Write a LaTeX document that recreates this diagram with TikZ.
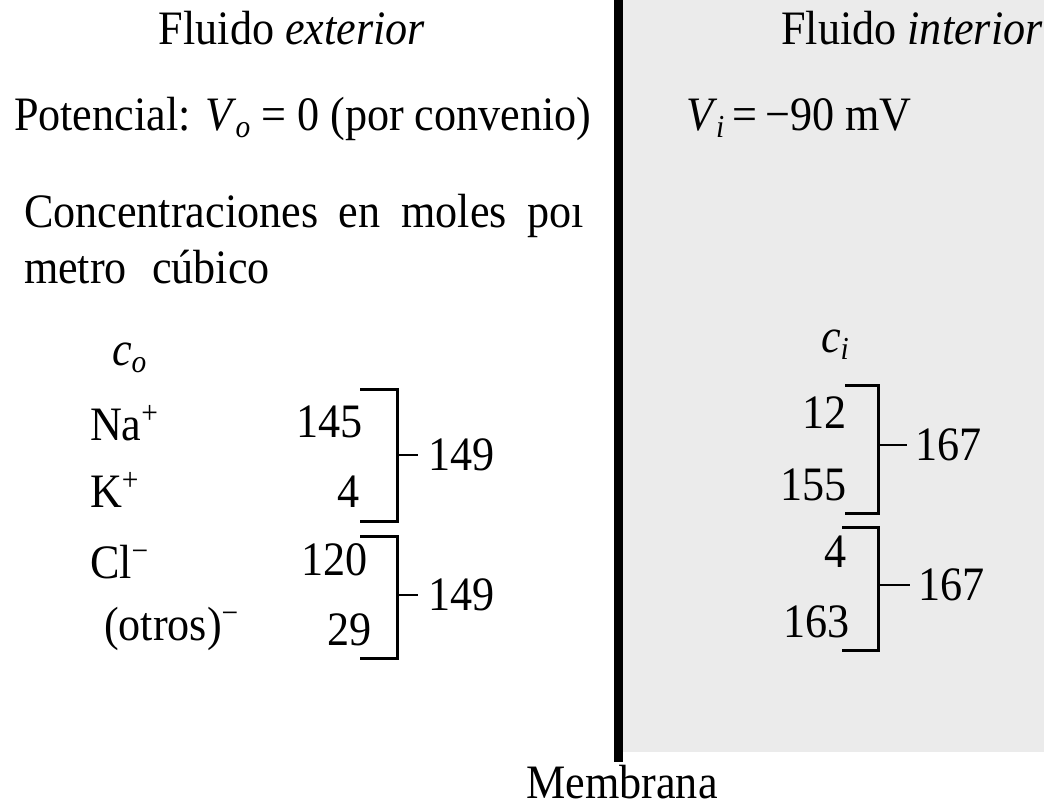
\documentclass[tikz,border=0pt]{standalone}
\usepackage{fontspec}
\setmainfont[FakeStretch=0.92]{Liberation Serif}
\newcommand\supx[1]{\raisebox{0.75ex}{\fontsize{32}{32}\selectfont #1}}
\newcommand\subx[1]{\raisebox{-0.35ex}{\fontsize{32}{32}\selectfont\itshape #1}}
\begin{document}
\begin{tikzpicture}[x=1pt,y=-1pt,
  every node/.style={inner sep=0pt,outer sep=0pt,font=\fontsize{48}{56}\selectfont},
  brk/.style={line width=3pt,line join=miter},
  tick/.style={line width=2pt},
  membrane/.style={line width=9pt},
  inside/.style={fill=black!8}]
\useasboundingbox (0,0) rectangle (1044,808);
\fill[inside] (622,0) rectangle (1044,752);
\draw[membrane] (618,0) -- (618,762);

% headings
\node[anchor=base] (fext) at (292,45) {Fluido \textit{exterior}};
\node[anchor=base] (fint) at (912,45) {Fluido \textit{interior}};
\node[anchor=base west] (pot) at (14,130) {Potencial: \textit{V}\kern-1pt\subx{o} = 0 (por convenio)};
\node[anchor=base west] (vi) at (686,130) {\textit{V}\kern-1pt\subx{i}\,=\,−90 mV};
\node[anchor=base west] (conc1) at (24,227) {\makebox[560pt][s]{Concentraciones en moles poı}};
\node[anchor=base west] (conc2) at (24,283) {metro\hspace{14pt} cúbico};

% exterior column
\node[anchor=base west] (co) at (112,365) {\textit{c}\subx{o}};
\node[anchor=base west] (na) at (90,440) {Na\supx{+}};
\node[anchor=base west] (k) at (90,507) {K\supx{+}};
\node[anchor=base west] (cl) at (90,578) {Cl\supx{−}};
\node[anchor=base west] (ot) at (104,640) {(otros)\supx{−}};
\node[anchor=base east] (n145) at (363,437) {145};
\node[anchor=base east] (n4) at (360,507) {4};
\node[anchor=base east] (n120) at (368,575) {120};
\node[anchor=base east] (n29) at (372,645) {29};
\draw[brk] (360,389) -- (397,389) -- (397,521) -- (360,521);
\draw[tick] (397,455) -- (418,455);
\node[anchor=west] (s1) at (428,455) {149};
\draw[brk] (360,536) -- (397,536) -- (397,658) -- (360,658);
\draw[tick] (397,595) -- (418,595);
\node[anchor=west] (s2) at (428,595) {149};

% interior column
\node[anchor=base west] (ci) at (821,352) {\textit{c}\subx{i}};
\node[anchor=base east] (n12) at (847,428) {12};
\node[anchor=base east] (n155) at (847,500) {155};
\node[anchor=base east] (n4i) at (847,567) {4};
\node[anchor=base east] (n163) at (850,637) {163};
\draw[brk] (845,385) -- (878,385) -- (878,513) -- (845,513);
\draw[tick] (878,445) -- (907,445);
\node[anchor=west] (s3) at (915,445) {167};
\draw[brk] (842,527) -- (878,527) -- (878,650) -- (842,650);
\draw[tick] (878,585) -- (910,585);
\node[anchor=west] (s4) at (918,585) {167};

\node[anchor=base] (mem) at (622,798) {Membrana};
\end{tikzpicture}
\end{document}
